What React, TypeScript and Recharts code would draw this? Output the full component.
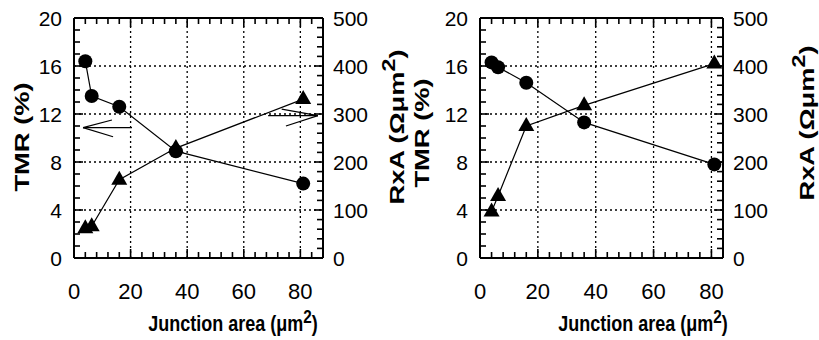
import React from "react";
import { ComposedChart, Line, XAxis, YAxis, ReferenceLine } from "recharts";

// junction areas (um^2) shared by both panels
const areas = [4, 6.25, 16, 36, 81];
// left panel
const tmrLeft = [16.4, 13.5, 12.6, 8.9, 6.2];
const rxaLeft = [62, 66, 163, 229, 331];
// right panel
const tmrRight = [16.3, 15.9, 14.6, 11.3, 7.8];
const rxaRight = [97, 129, 275, 318, 405];

const xLabels = [0, 20, 40, 60, 80];
const tmrLabels = [0, 4, 8, 12, 16, 20];
const rxaLabels = [0, 100, 200, 300, 400, 500];

// arrows in the left panel, [x1, y1, x2, y2] in (area, TMR) units
const arrowSegs = [
  [20.5, 10.86, 3.2, 10.86],
  [3.2, 10.86, 13.4, 11.5],
  [3.2, 10.86, 13.8, 10.1],
  [68.6, 11.86, 86.2, 11.86],
  [86.2, 11.86, 73.4, 12.4],
  [86.2, 11.86, 74.9, 11.0],
];

const steps = (max: number, step: number) =>
  Array.from({ length: Math.floor(max / step) + 1 }, (_, i) => i * step);

const sans = "'Liberation Sans', Arial, sans-serif";
const narrow = "'Liberation Sans Narrow', 'Liberation Sans', Arial, sans-serif";
const INK = "#000";

const H = 340;
const TOP = 18;
const BOTTOM_H = 82;
const PLOT_H = H - TOP - BOTTOM_H;

const LeftLabel = (props: any) => {
  const { x, y, payload } = props;
  if (!tmrLabels.includes(payload.value)) return <g />;
  return (
    <text x={x - 12} y={y} dy="0.36em" textAnchor="end" fontSize={21} fontFamily={sans} fill="#000">
      {payload.value}
    </text>
  );
};

const RightLabel = (props: any) => {
  const { x, y, payload } = props;
  if (!rxaLabels.includes(payload.value)) return <g />;
  return (
    <text x={x + 10} y={y} dy="0.36em" textAnchor="start" fontSize={21} fontFamily={sans} fill="#000">
      {payload.value}
    </text>
  );
};

const BottomLabel = (props: any) => {
  const { x, y, payload } = props;
  if (!xLabels.includes(payload.value)) return <g />;
  return (
    <text x={x} y={y + 33} dy="0.36em" textAnchor="middle" fontSize={22} fontFamily={narrow} fill="#000">
      {payload.value}
    </text>
  );
};

const CircleDot = (props: any) => {
  const { cx, cy } = props;
  if (cx == null || cy == null) return null;
  return <circle cx={cx} cy={cy} r={7} fill="#000" />;
};

const TriangleDot = (props: any) => {
  const { cx, cy } = props;
  if (cx == null || cy == null) return null;
  return <polygon points={`${cx},${cy - 9} ${cx - 8},${cy + 5} ${cx + 8},${cy + 5}`} fill="#000" />;
};

interface PanelProps {
  width: number;
  xMax: number;
  leftW: number;
  rightW: number;
  tmr: number[];
  rxa: number[];
  arrows?: number[][];
}

const Panel = ({ width, xMax, leftW, rightW, tmr, rxa, arrows = [] }: PanelProps) => {
  const data = areas.map((a, i) => ({ x: a, tmr: tmr[i], rxa: rxa[i] }));
  const xTicks = steps(xMax, 4);
  const pxX = (width - leftW - rightW) / xMax; // px per x unit
  const pxY = PLOT_H / 20; // px per TMR unit
  const seg = (x1: number, y1: number, x2: number, y2: number, key: string, w = 2, color = INK) => (
    <ReferenceLine
      key={key}
      xAxisId="b"
      yAxisId="l"
      ifOverflow="visible"
      segment={[
        { x: x1, y: y1 },
        { x: x2, y: y2 },
      ]}
      stroke={color}
      strokeWidth={w}
    />
  );
  const tickLen = (major: boolean) => (major ? 9 : 6);

  return (
    <ComposedChart width={width} height={H} data={data} margin={{ top: TOP, right: 0, bottom: 0, left: 0 }}>
      <XAxis
        xAxisId="b"
        dataKey="x"
        type="number"
        domain={[0, xMax]}
        ticks={xTicks}
        interval={0}
        height={BOTTOM_H}
        tickSize={0}
        tickMargin={0}
        tickLine={false}
        axisLine={false}
        tick={<BottomLabel />}
      />
      <YAxis
        yAxisId="l"
        type="number"
        domain={[0, 20]}
        ticks={tmrLabels}
        interval={0}
        width={leftW}
        tickSize={0}
        tickMargin={0}
        tickLine={false}
        axisLine={false}
        tick={<LeftLabel />}
      />
      <YAxis
        yAxisId="r"
        orientation="right"
        type="number"
        domain={[0, 500]}
        ticks={rxaLabels}
        interval={0}
        width={rightW}
        tickSize={0}
        tickMargin={0}
        tickLine={false}
        axisLine={false}
        tick={<RightLabel />}
      />
      {xLabels.slice(1).map((v) => (
        <ReferenceLine key={`gx${v}`} xAxisId="b" yAxisId="l" x={v} stroke="#000" strokeWidth={1.3} strokeDasharray="2 3" />
      ))}
      {tmrLabels.slice(1, -1).map((v) => (
        <ReferenceLine key={`gy${v}`} xAxisId="b" yAxisId="l" y={v} stroke="#000" strokeWidth={1.3} strokeDasharray="2 3" />
      ))}
      {/* inward tick marks */}
      {steps(20, 1).map((v) => seg(0, v, tickLen(tmrLabels.includes(v)) / pxX, v, `tl${v}`, 1.6))}
      {steps(500, 20).map((v) =>
        seg(xMax, v / 25, xMax - tickLen(rxaLabels.includes(v)) / pxX, v / 25, `tr${v}`, 1.6)
      )}
      {xTicks.map((v) => seg(v, 0, v, tickLen(xLabels.includes(v)) / pxY, `tb${v}`, 1.6))}
      {xTicks.map((v) => seg(v, 20, v, 20 - tickLen(xLabels.includes(v)) / pxY, `tt${v}`, 1.6))}
      {/* frame */}
      {seg(0, 0, 0, 20, "fl")}
      {seg(xMax, 0, xMax, 20, "fr")}
      {seg(0, 0, xMax, 0, "fb")}
      {seg(0, 20, xMax, 20, "ft")}
      {arrows.map((s, i) => seg(s[0], s[1], s[2], s[3], `ar${i}`, 1.2, "#000"))}
      <Line
        xAxisId="b"
        yAxisId="l"
        dataKey="tmr"
        type="linear"
        stroke="#000"
        strokeWidth={1.2}
        dot={<CircleDot />}
        isAnimationActive={false}
      />
      <Line
        xAxisId="b"
        yAxisId="r"
        dataKey="rxa"
        type="linear"
        stroke="#000"
        strokeWidth={1.2}
        dot={<TriangleDot />}
        isAnimationActive={false}
      />
    </ComposedChart>
  );
};

const vTitle = (cx: number, cy: number, content: React.ReactNode) => (
  <div
    style={{
      position: "absolute",
      left: cx,
      top: cy,
      transform: "translate(-50%, -50%) rotate(-90deg) scaleX(1.3)",
      whiteSpace: "nowrap",
      fontFamily: sans,
      fontWeight: "bold",
      fontSize: 21,
      lineHeight: 1,
    }}
  >
    {content}
  </div>
);

const xTitle = (cx: number) => (
  <div
    style={{
      position: "absolute",
      left: cx,
      top: 323,
      transform: "translate(-50%, -50%) scaleY(1.25)",
      whiteSpace: "nowrap",
      fontFamily: sans,
      fontWeight: "bold",
      fontSize: 18,
      lineHeight: 1,
    }}
  >
    Junction area (μm<sup style={{ fontSize: "0.85em", verticalAlign: "0.4em", lineHeight: 0 }}>2</sup>)
  </div>
);

const rxaText = (
  <>
    RxA (Ωμm<sup style={{ fontSize: "0.85em", verticalAlign: "0.45em", lineHeight: 0 }}>2</sup>)
  </>
);

export default function App() {
  return (
    <div style={{ position: "absolute", left: 0, top: 0, width: 819, height: 340, background: "#fff" }}>
      <div style={{ position: "absolute", left: 0, top: 0 }}>
        <Panel width={410} xMax={88} leftW={74} rightW={87} tmr={tmrLeft} rxa={rxaLeft} arrows={arrowSegs} />
      </div>
      <div style={{ position: "absolute", left: 410, top: 0 }}>
        <Panel width={409} xMax={84} leftW={70} rightW={96} tmr={tmrRight} rxa={rxaRight} />
      </div>
      {vTitle(21, 137, "TMR (%)")}
      {vTitle(396, 127, rxaText)}
      {vTitle(421, 133, "TMR (%)")}
      {vTitle(806, 123, rxaText)}
      {xTitle(233)}
      {xTitle(643)}
    </div>
  );
}
